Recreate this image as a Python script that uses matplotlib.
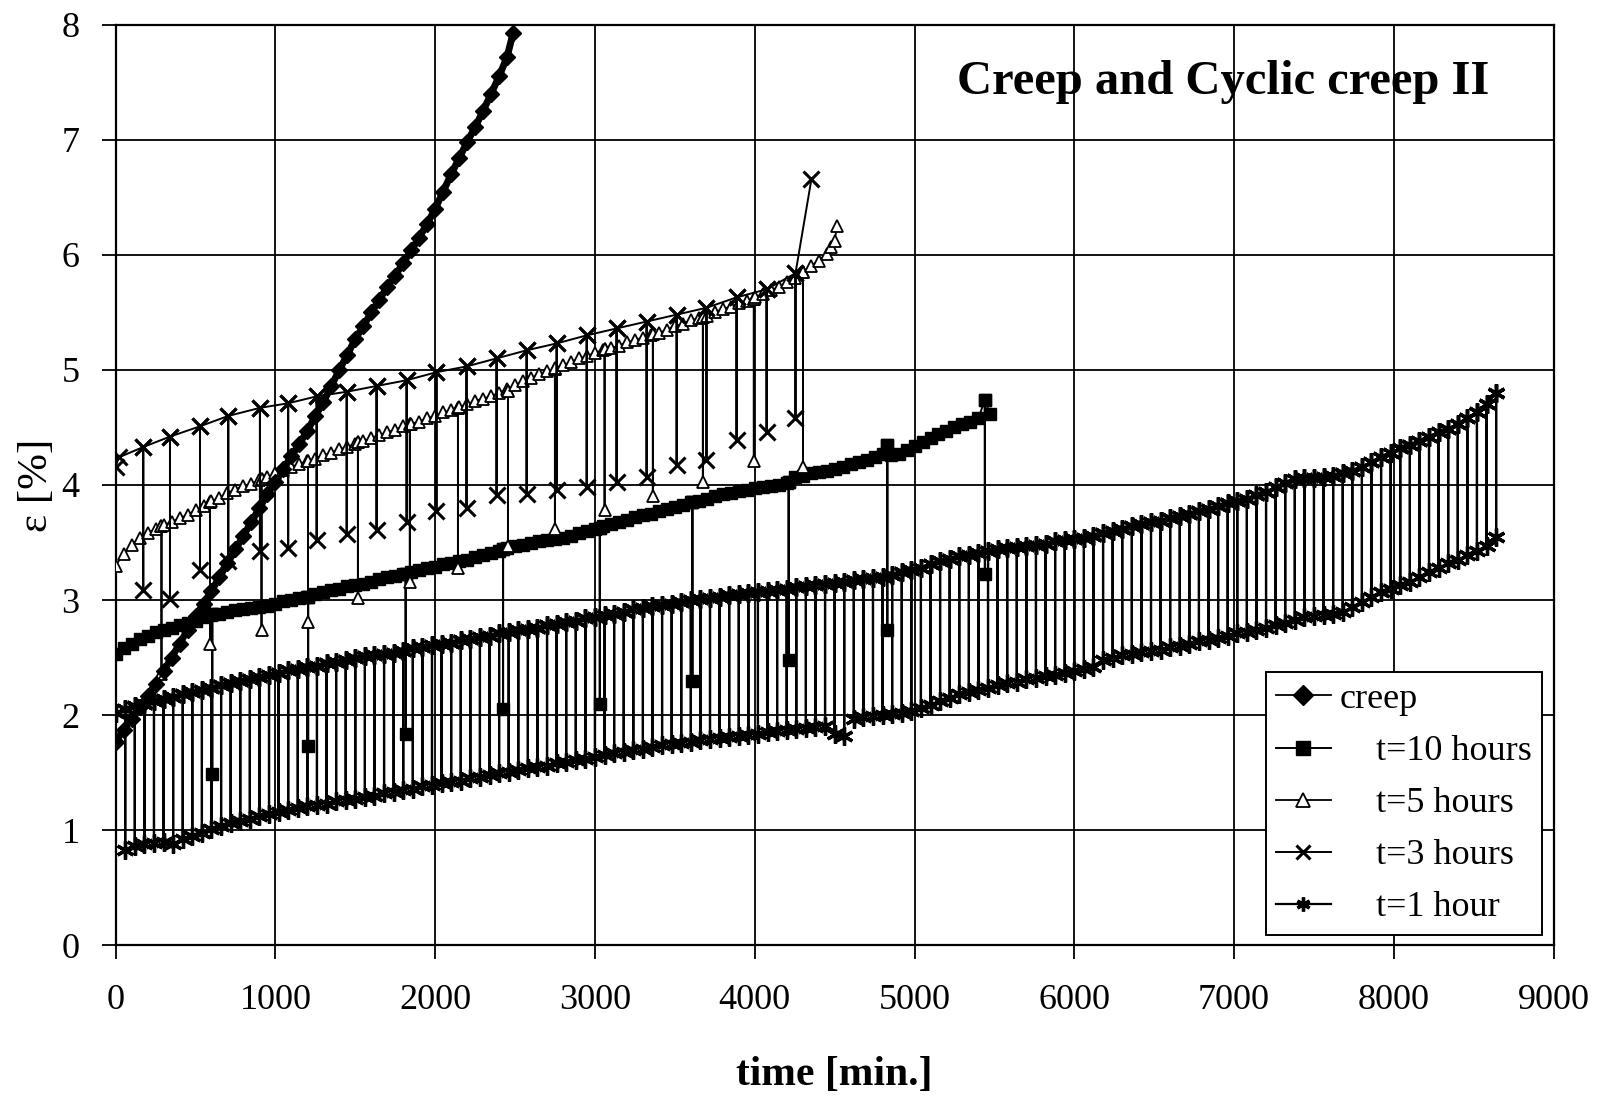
import numpy as np
import matplotlib
matplotlib.use("Agg")
import matplotlib.pyplot as plt

# ---------------- data ----------------
# creep (continuous)
creep_t = list(range(0, 2451, 50)) + [2488]
creep_v = [1.77, 1.87, 1.97, 2.07, 2.17, 2.27, 2.38, 2.50, 2.62, 2.74,
           2.86, 2.97, 3.08, 3.20, 3.32, 3.44, 3.56, 3.68, 3.80, 3.92,
           4.03, 4.14, 4.25, 4.36, 4.47, 4.60, 4.72, 4.86, 5.00, 5.13,
           5.27, 5.38, 5.50, 5.61, 5.72, 5.82, 5.93, 6.04, 6.15, 6.27,
           6.40, 6.55, 6.70, 6.84, 6.98, 7.11, 7.25, 7.40, 7.55, 7.72,
           7.93]

# t=10 hours : loaded curve + unloading drops
h10_t = list(range(0, 5401, 50)) + [5470]
h10_v = [2.53, 2.58, 2.62, 2.66, 2.69, 2.72, 2.74, 2.76, 2.78, 2.80,
         2.82, 2.85, 2.87, 2.88, 2.90, 2.91, 2.92, 2.93, 2.94, 2.95,
         2.97, 2.99, 3.00, 3.02, 3.03, 3.05, 3.07, 3.09, 3.10, 3.12,
         3.13, 3.14, 3.16, 3.18, 3.20, 3.21, 3.23, 3.24, 3.26, 3.28,
         3.29, 3.31, 3.32, 3.34, 3.35, 3.37, 3.39, 3.41, 3.43, 3.45,
         3.47, 3.48, 3.50, 3.51, 3.52, 3.53, 3.54, 3.56, 3.58, 3.60,
         3.62, 3.64, 3.66, 3.68, 3.70, 3.72, 3.74, 3.75, 3.77, 3.79,
         3.81, 3.83, 3.85, 3.86, 3.88, 3.90, 3.92, 3.93, 3.95, 3.96,
         3.97, 3.98, 3.99, 4.00, 4.02, 4.07, 4.08, 4.10, 4.11, 4.12,
         4.14, 4.16, 4.18, 4.20, 4.22, 4.24, 4.27, 4.26, 4.27, 4.30,
         4.34, 4.37, 4.41, 4.44, 4.47, 4.50, 4.53, 4.55, 4.58,
         4.62]
h10_drop_t = [605, 1205, 1815, 2425, 3030, 3610, 4212, 4830, 5440]
h10_drop_top = [2.88, 3.03, 3.23, 3.44, 3.63, 3.85, 4.03, 4.35, 4.74]
h10_drop_bot = [1.49, 1.73, 1.84, 2.05, 2.10, 2.30, 2.48, 2.74, 3.23]

# t=5 hours
h5_t = list(range(0, 4451, 50)) + [4480, 4500, 4515]
h5_v = [3.30, 3.40, 3.48, 3.54, 3.58, 3.62, 3.65, 3.68, 3.71, 3.74,
        3.78, 3.82, 3.86, 3.89, 3.93, 3.96, 3.99, 4.01, 4.04, 4.07,
        4.10, 4.13, 4.16, 4.18, 4.21, 4.23, 4.26, 4.28, 4.31, 4.33,
        4.36, 4.38, 4.41, 4.43, 4.46, 4.48, 4.51, 4.53, 4.55, 4.58,
        4.60, 4.63, 4.65, 4.68, 4.70, 4.73, 4.75, 4.77, 4.80, 4.83,
        4.87, 4.90, 4.93, 4.96, 4.99, 5.02, 5.04, 5.07, 5.10, 5.12,
        5.15, 5.17, 5.19, 5.21, 5.24, 5.26, 5.28, 5.30, 5.32, 5.35,
        5.38, 5.40, 5.43, 5.45, 5.47, 5.50, 5.53, 5.55, 5.58, 5.60,
        5.63, 5.66, 5.69, 5.72, 5.76, 5.80, 5.85, 5.90, 5.95, 6.01,
        6.07, 6.12, 6.25]
h5_drop_t = [287, 590, 913, 1204, 1516, 1841, 2142, 2455, 2749, 3060,
             3362, 3675, 3994, 4302]
h5_drop_top = [3.64, 3.85, 4.05, 4.21, 4.37, 4.53, 4.67, 4.82, 5.01, 5.18,
               5.31, 5.46, 5.62, 5.85]
h5_drop_bot = [2.36, 2.62, 2.74, 2.81, 3.02, 3.16, 3.28, 3.47, 3.62, 3.78,
               3.90, 4.03, 4.21, 4.16]

# t=3 hours
h3_t = [0, 20, 4355]
h3_v = [4.16, 4.24, 6.66]
h3_drop_t = [173, 340, 528, 705, 903, 1080, 1258, 1446, 1633, 1821,
             2008, 2196, 2384, 2572, 2760, 2948, 3135, 3323, 3511, 3698,
             3886, 4074, 4255]
h3_drop_top = [4.33, 4.42, 4.51, 4.60, 4.67, 4.71, 4.77, 4.81, 4.86, 4.91,
               4.98, 5.03, 5.10, 5.17, 5.23, 5.30, 5.36, 5.42, 5.48, 5.54,
               5.63, 5.70, 5.84]
h3_drop_bot = [3.09, 3.01, 3.26, 3.34, 3.43, 3.45, 3.52, 3.57, 3.61, 3.68,
               3.77, 3.80, 3.91, 3.92, 3.96, 3.98, 4.03, 4.07, 4.17, 4.22,
               4.39, 4.46, 4.58]

# t=1 hour : value at load (every 60 min) and value after unloading
h1_t = [0]
h1_v = [2.02]
h1_drop_t = list(range(60, 8641, 60))
h1_drop_top = [2.05, 2.08, 2.10, 2.12, 2.14, 2.16, 2.18, 2.20, 2.22,
               2.24, 2.26, 2.28, 2.30, 2.31, 2.33, 2.35, 2.37, 2.39, 2.40,
               2.42, 2.43, 2.45, 2.46, 2.48, 2.50, 2.51, 2.52, 2.53, 2.54,
               2.56, 2.58, 2.59, 2.61, 2.62, 2.63, 2.65, 2.66, 2.68, 2.69,
               2.71, 2.72, 2.74, 2.75, 2.76, 2.78, 2.79, 2.81, 2.82, 2.84,
               2.85, 2.87, 2.88, 2.90, 2.92, 2.93, 2.95, 2.96, 2.97, 2.98,
               3.00, 3.01, 3.02, 3.03, 3.04, 3.05, 3.06, 3.07, 3.08, 3.09,
               3.10, 3.11, 3.12, 3.13, 3.14, 3.15, 3.16, 3.17, 3.18, 3.19,
               3.20, 3.22, 3.24, 3.26, 3.28, 3.31, 3.34, 3.36, 3.38, 3.39,
               3.41, 3.43, 3.44, 3.45, 3.46, 3.47, 3.48, 3.49, 3.51, 3.52,
               3.53, 3.54, 3.56, 3.58, 3.60, 3.62, 3.64, 3.66, 3.68, 3.69,
               3.71, 3.73, 3.75, 3.77, 3.79, 3.82, 3.84, 3.86, 3.88, 3.91,
               3.94, 3.98, 4.02, 4.05, 4.06, 4.06, 4.07, 4.08, 4.10, 4.12,
               4.16, 4.20, 4.24, 4.28, 4.32, 4.35, 4.38, 4.42, 4.46, 4.49,
               4.53, 4.58, 4.63, 4.70, 4.80]
h1_drop_bot = [0.83, 0.86, 0.88, 0.89, 0.90, 0.88, 0.92, 0.95, 0.98, 1.01,
               1.04, 1.06, 1.08, 1.10, 1.12, 1.14, 1.16, 1.18, 1.19, 1.21,
               1.22, 1.23, 1.25, 1.26, 1.27, 1.29, 1.30, 1.32, 1.33, 1.35,
               1.36, 1.38, 1.39, 1.41, 1.42, 1.43, 1.45, 1.46, 1.48, 1.50,
               1.51, 1.52, 1.54, 1.55, 1.56, 1.58, 1.59, 1.61, 1.62, 1.64,
               1.65, 1.67, 1.68, 1.70, 1.71, 1.72, 1.74, 1.75, 1.76, 1.77,
               1.78, 1.79, 1.80, 1.81, 1.82, 1.83, 1.84, 1.85, 1.86, 1.87,
               1.88, 1.89, 1.90, 1.91, 1.84, 1.82, 1.97, 1.98, 1.99, 2.00,
               2.01, 2.02, 2.04, 2.06, 2.09, 2.12, 2.15, 2.18, 2.20, 2.22,
               2.24, 2.26, 2.28, 2.29, 2.31, 2.32, 2.34, 2.35, 2.37, 2.38,
               2.40, 2.42, 2.48, 2.50, 2.52, 2.53, 2.55, 2.56, 2.57, 2.59,
               2.60, 2.62, 2.64, 2.65, 2.67, 2.69, 2.71, 2.72, 2.74, 2.76,
               2.78, 2.80, 2.83, 2.85, 2.86, 2.87, 2.88, 2.90, 2.94, 2.98,
               3.03, 3.07, 3.10, 3.13, 3.16, 3.20, 3.24, 3.28, 3.32, 3.35,
               3.39, 3.43, 3.47, 3.55]

x_ticks = [0, 1000, 2000, 3000, 4000, 5000, 6000, 7000, 8000, 9000]
y_ticks = [0, 1, 2, 3, 4, 5, 6, 7, 8]
labels = ["creep", "    t=10 hours", "    t=5 hours", "    t=3 hours", "    t=1 hour"]
title = "Creep and Cyclic creep II"


def cyclic_path(up_t, up_v, dr_t, dr_top, dr_bot):
    """Sequence of the measured points: loaded curve, with each unloading
    going down to the recovered value and back up at the same time."""
    items = [(t, 0, [v]) for t, v in zip(up_t, up_v)]
    items += [(t, 1, [a, b, a]) for t, a, b in zip(dr_t, dr_top, dr_bot)]
    items.sort(key=lambda it: (it[0], it[1]))
    xs, ys = [], []
    for t, _, vals in items:
        for v in vals:
            xs.append(t)
            ys.append(v)
    return xs, ys


# ---------------- figure ----------------
plt.rcParams['font.family'] = ['Liberation Serif', 'DejaVu Serif']
fig = plt.figure(figsize=(16.06, 10.95), dpi=100)
ax = fig.add_axes([0.072, 0.1367, 0.8954, 0.8408])

black = 'black'
asterisk = (6, 2, 0)

# creep: band + markers
ax.plot(creep_t, creep_v, color=black, lw=5, solid_capstyle='round', zorder=3)
ax.plot(creep_t, creep_v, color=black, lw=1.3, marker='D', ms=8, zorder=4,
        label=labels[0])

x10, y10 = cyclic_path(h10_t, h10_v, h10_drop_t, h10_drop_top, h10_drop_bot)
ax.plot(x10, y10, color=black, lw=1.4, marker='s', ms=9, zorder=3,
        label=labels[1])

x5, y5 = cyclic_path(h5_t, h5_v, h5_drop_t, h5_drop_top, h5_drop_bot)
ax.plot(x5, y5, color=black, lw=1.3, marker='^', ms=9, mfc='white',
        mec=black, mew=1.3, zorder=3, label=labels[2])

x3, y3 = cyclic_path(h3_t, h3_v, h3_drop_t, h3_drop_top, h3_drop_bot)
ax.plot(x3, y3, color=black, lw=1.4, marker='x', ms=12, mew=2.2, zorder=3,
        label=labels[3])

x1, y1 = cyclic_path(h1_t, h1_v, h1_drop_t, h1_drop_top, h1_drop_bot)
ax.plot(x1, y1, color=black, lw=1.6, marker=asterisk, ms=13, mew=2.4, zorder=3,
        label=labels[4])

ax.set_xlim(0, 9000)
ax.set_ylim(0, 8)
ax.set_xticks(x_ticks)
ax.set_yticks(y_ticks)
ax.grid(True, color=black, lw=1.3)
ax.set_axisbelow(True)
for s in ax.spines.values():
    s.set_color(black)
    s.set_linewidth(1.6)
ax.tick_params(direction='out', length=10, width=1.3, labelsize=26,
               colors=black)
ax.tick_params(axis='x', pad=18)
ax.tick_params(axis='y', pad=16)

ax.set_xlabel("time [min.]", fontsize=30, fontweight='bold', labelpad=28)
ax.set_ylabel("ε [%]", fontsize=31, labelpad=4)

ax.text(0.77, 0.938, title, transform=ax.transAxes, ha='center', va='center',
        fontsize=35, fontweight='bold', zorder=6)

leg = ax.legend(loc='lower right', bbox_to_anchor=(0.992, 0.011), fontsize=26,
                frameon=True, fancybox=False, edgecolor=black, framealpha=1,
                handlelength=1.5, handletextpad=0.25, labelspacing=0.52,
                borderpad=0.3, borderaxespad=0)
leg.get_frame().set_linewidth(1.4)
leg.set_zorder(10)
for h in leg.legend_handles:
    h.set_markersize(10)

fig.savefig("out.png", dpi=100, facecolor='white')
